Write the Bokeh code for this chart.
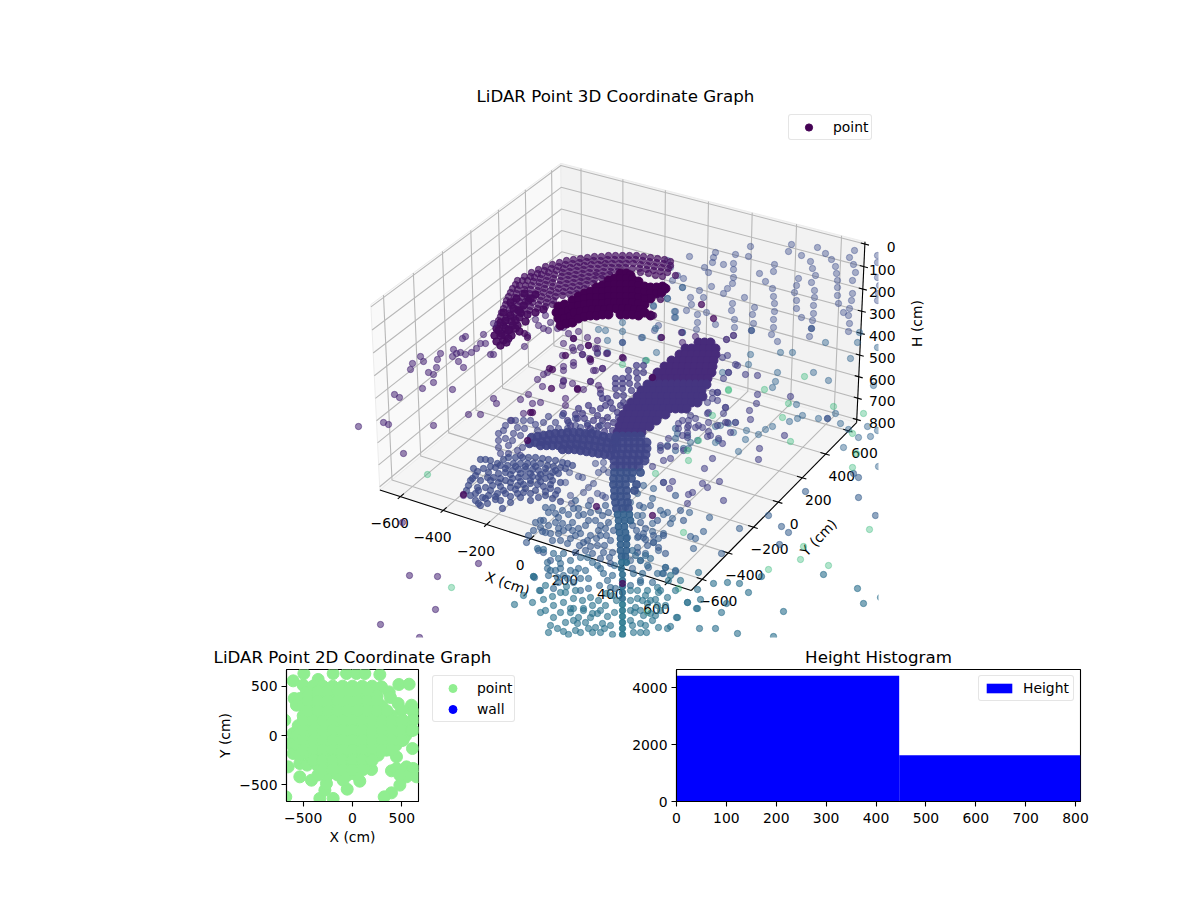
import numpy as np
from bokeh.plotting import figure
from bokeh.layouts import column, row
from bokeh.models import (Range1d, Label, Legend, LegendItem, FixedTicker,
                          LinearColorMapper, ColumnDataSource)
from bokeh.palettes import Viridis256
from bokeh.embed import file_html
from bokeh.resources import INLINE

# ---------- 3D chart: points as read in the chart's projected view -----------
wall_violet = [(689,256),(715,252),(713,257),(712,262),(735,254),(748,256),(750,246),(733,263),(723,264),(733,269),(704,267),(708,272),(733,277),(732,283),(727,288),(723,293),(711,286),(699,290),(682,287),(672,280),(683,278),(677,275),(670,267),(667,260),(774,264),(773,271),(759,273),(765,281),(772,288),(773,296),(744,297),(774,303),(754,307),(774,311),(752,314),(773,319),(753,323),(773,327),(771,334),(777,341),(732,303),(731,310),(734,319),(734,327),(733,335),(726,339),(703,297),(691,304),(690,297),(686,310),(675,311),(706,312),(697,314),(674,317),(715,324),(697,322),(696,329),(682,332),(654,330),(658,325),(653,306),(641,337),(667,298),(791,244),(788,251),(801,255),(810,261),(817,247),(825,253),(831,259),(835,266),(836,273),(837,280),(837,287),(837,295),(838,303),(843,312),(854,250),(849,257),(853,264),(855,272),(852,280),(852,293),(851,300),(849,308),(848,315),(849,323),(848,331),(812,268),(815,275),(811,282),(814,290),(814,297),(813,305),(813,313),(812,320),(809,336),(798,278),(796,285),(794,292),(796,300),(796,308),(801,317),(877,255),(877,262),(877,277),(879,285),(878,293),(877,300)]
wall_blue = [(825,342),(857,342),(859,332),(877,347),(780,352),(792,352),(850,358),(750,354),(622,322),(598,329),(605,330),(622,331),(642,337),(607,340),(597,352),(607,352),(682,332),(655,328),(660,337),(656,352),(645,360),(682,287),(675,317),(674,311),(653,305),(667,298),(777,372),(775,381),(828,380),(813,372),(748,364),(722,372),(772,387),(796,404),(835,413),(802,415),(797,418),(789,421),(818,418),(840,423),(772,426),(765,429),(758,434),(745,439),(746,430),(735,422),(728,423),(720,425),(715,426),(733,432),(718,440),(715,442),(697,440),(690,442),(688,448),(738,451),(873,385),(867,426),(870,436),(877,430),(848,429),(858,437),(843,447),(878,466)]
wall_dark_blue = [(622,342),(811,328),(827,418),(751,330)]
sparse_purple = [(358,426),(383,422),(388,424),(403,453),(433,425),(394,394),(399,397),(422,388),(433,382),(452,389),(428,372),(433,374),(436,367),(412,363),(410,369),(423,361),(458,361),(463,367),(468,414),(480,414),(493,398),(496,403),(463,495),(402,522),(409,575),(437,576),(478,563),(435,609),(380,624),(419,637),(528,394),(520,399),(540,402),(532,403),(547,372),(543,374),(537,379),(563,370),(573,365),(590,361),(593,370),(602,368),(563,381),(542,386),(562,385),(572,383),(590,381),(600,389),(523,413),(511,420),(493,323),(483,334),(462,338),(465,336),(453,349),(460,352),(456,353),(465,354),(471,352),(476,348),(480,343),(485,343),(490,354),(493,354),(440,353),(420,356),(437,359),(452,356),(524,346),(527,335),(535,319),(545,315),(538,325),(543,328),(550,322),(548,330),(557,328),(563,327),(568,333),(573,338),(578,331),(587,337),(588,345),(563,343),(562,355),(572,347),(580,347),(582,354),(597,348),(597,353),(607,353),(589,358),(681,332),(695,336),(682,342),(606,353),(597,340),(595,348),(582,354),(573,350),(563,366),(573,362),(595,370),(602,368),(590,381),(563,380),(583,389),(598,385),(565,398),(565,405),(623,358),(733,335),(726,339)]
dark_specks = [(549,368),(552,369),(551,388),(577,389),(530,412),(532,412),(527,440),(652,377),(622,583),(652,515),(596,506),(463,494),(622,357),(588,345),(590,359),(573,338),(565,355),(577,388),(653,315),(660,299),(661,337),(713,318),(701,304),(524,333),(527,337)]
right_purple = [(757,375),(735,364),(745,374),(728,372),(712,392),(717,392),(725,407),(708,412),(708,422),(698,425),(688,425),(678,423),(725,422),(708,431),(710,435),(687,432),(678,428),(682,435),(668,438),(687,437),(660,445),(667,446),(675,446),(660,450),(683,450),(670,458),(663,460),(652,466),(712,458),(759,448),(758,459),(704,468),(702,483),(707,487),(719,481),(672,481),(663,482),(669,488),(688,494),(692,492),(687,503),(723,500),(784,435),(750,419),(749,410),(756,403),(757,394),(790,396),(722,357),(727,355),(737,365),(728,372),(723,378),(717,392),(712,398),(717,400),(707,402),(707,413),(725,407),(723,413),(717,425),(727,422),(735,422),(730,432),(722,443),(718,438),(707,436),(702,427),(695,427),(687,427),(695,418),(690,415),(682,420),(688,420)]
right_blue = [(663,482),(653,488),(652,498),(643,485),(637,493),(630,502),(643,507),(642,515),(625,507),(637,515),(660,510),(667,512),(663,514),(672,518),(670,523),(652,523),(652,531),(663,533),(653,542),(658,538),(658,550),(643,537),(645,553),(637,537),(637,547),(627,537),(665,567),(675,571),(640,560),(663,573),(648,567),(632,568),(630,560),(689,512),(709,517),(739,528),(768,515),(781,526),(788,532),(690,536),(695,538),(703,531),(693,548),(721,553),(875,515),(858,497),(858,477),(853,473),(805,491),(675,428),(677,433),(675,438),(687,435),(667,445),(660,447),(675,450),(683,448),(779,544)]
lower_teal = [(698,572),(713,583),(727,582),(739,583),(748,592),(726,603),(721,612),(783,611),(700,599),(687,602),(697,589),(696,608),(676,617),(670,626),(699,628),(715,628),(737,633),(773,636),(761,576),(823,574),(857,588),(863,603),(880,597)]
green_points = [(427,474),(451,587),(655,473),(688,460),(764,389),(728,389),(788,403),(833,406),(782,417),(804,376),(790,441),(687,450),(712,415),(728,390),(622,364),(646,360),(683,532),(678,588),(647,612),(803,546),(800,559),(828,565),(768,569),(869,529),(852,467),(856,453),(852,433),(863,413),(698,440)]

arc_band = [(517,280),(524,276),(531,272),(538,269),(545,266),(552,264),(559,262),(566,260),(573,259),(580,258),(587,257),(594,256),(601,256),(608,255),(615,255),(622,255),(629,255),(636,255),(643,256),(650,257),(657,258),(664,259),(670,261),
(512,288),(519,285),(527,280),(534,277),(541,274),(548,272),(556,270),(563,268),(570,267),(577,266),(584,265),(591,264),(598,264),(605,263),(612,263),(619,263),(626,263),(633,263),(640,264),(647,265),(654,266),(661,267),(668,268),
(508,296),(516,293),(524,289),(531,285),(539,282),(546,280),(553,278),(561,276),(568,275),(575,274),(582,273),(589,272),(596,272),(603,271),(610,271),(617,271),(640,272),(648,273),(655,275),(662,276),(675,275),
(505,304),(513,301),(521,297),(529,293),(537,290),(544,288),(552,286),(559,284),(566,283),(573,282),(580,281),(587,280),(594,279),(601,278),
(501,312),(509,309),(517,305),(525,301),(533,298),(541,296),(549,294),(556,292),(563,291),(570,290),(577,289),(584,288),
(498,320),(506,317),(514,313),(522,309),(530,306),(538,304),(546,302),(553,300),
(515,284),(522,280),(530,276),(537,273),(544,270),(551,268),(558,266),(565,264),(572,263),(579,262),(586,261),(593,260),(600,260),(607,259),(614,259),(621,259),(628,259),(635,259),(642,260),(649,261),(656,262),(663,263),(670,265),
(510,292),(517,289),(525,285),(533,281),(540,278),(547,276),(554,274),(562,272),(569,271),(576,270),(583,269),(590,268),(597,268),(604,267),(611,267),(618,267),(625,267),(632,268),(639,268),(646,269),(653,270),(660,271),(667,272),
(506,300),(514,297),(522,293),(530,289),(538,286),(545,284),(552,282),(560,280),(567,279),(574,278),(581,277),(588,276),(595,275),(602,275),(609,274),
(503,308),(511,305),(519,301),(527,297),(535,294),(543,292),(550,290),(558,288),(565,287),(572,286),(579,285),(586,284),(593,283),
(500,316),(508,313),(516,309),(524,305),(532,302),(540,300),(547,298),(555,296),(562,295),(569,294),(576,293),
(497,324),(505,321),(513,317),(521,313),(529,310),(537,308),(545,306),(552,304)]
arc_foot = [(496,328),(503,325),(511,321),(519,317),(527,314),(535,312),(543,309),(494,335),(501,333),(509,329),(517,325),(525,321),(496,341),(503,340),(511,335),(519,331),(500,345),(506,342),
(500,322),(505,328),(510,315),(515,320),(520,312),(505,335),(512,325),(500,335),(508,338),(515,328),(523,305),(518,310),(528,300),(535,294),(505,320),(513,308),(508,330),(498,330),(503,312),(510,302),(516,298),(524,293),(530,298)]
solid_blob = [(558,306),(564,304),(556,312),(562,312),(568,310),(558,318),(564,318),(570,316),(560,325),(566,323),(572,322),
(620,273),(626,273),(630,275),(608,280),(614,278),(620,278),(626,278),(632,279),(638,281),
(596,287),(602,285),(608,285),(614,284),(620,284),(626,284),(632,284),(638,285),(644,286),(650,287),(656,287),(662,286),(665,288),
(578,296),(584,293),(590,291),(596,291),(602,291),(608,290),(614,290),(620,290),(626,290),(632,290),(638,291),(644,292),(650,293),(656,293),(661,292),
(572,300),(578,300),(584,298),(590,297),(596,297),(602,297),(608,296),(614,296),(620,296),(626,296),(632,296),(638,297),(644,298),(650,298),
(572,306),(578,305),(584,304),(590,303),(596,303),(602,303),(608,302),(614,302),(620,302),(626,302),(632,302),(638,303),(644,304),
(574,312),(580,311),(586,310),(592,309),(598,309),(604,309),(610,308),(616,308),(622,308),(628,308),(634,309),(640,309),
(578,318),(584,316),(590,315),(596,315),(602,314),(608,314),(620,314),(626,314),(632,314),(638,315),(644,312),(650,315)]
leaf_upper = [(698,342),(704,342),(710,342),(685,348),(691,348),(697,348),(703,348),(709,348),(715,348),(679,354),(685,354),(691,354),(697,354),(703,354),(709,354),(715,354),
(671,360),(677,360),(683,360),(689,360),(695,360),(701,360),(707,360),(713,360),(664,366),(670,366),(676,366),(682,366),(688,366),(694,366),(700,366),(706,366),(712,366),
(657,372),(663,372),(669,372),(675,372),(681,372),(687,372),(693,372),(699,372),(705,372),(711,372),(653,378),(659,378),(665,378),(671,378),(677,378),(683,378),(689,378),(695,378),(701,378),(707,378)]
leaf_lower = [(647,384),(653,384),(659,384),(665,384),(671,384),(677,384),(683,384),(689,384),(695,384),(701,384),(706,384),
(641,390),(647,390),(653,390),(659,390),(665,390),(671,390),(677,390),(683,390),(689,390),(695,390),(701,390),
(637,396),(643,396),(649,396),(655,396),(661,396),(667,396),(673,396),(679,396),(685,396),(691,396),(697,396),(702,396),
(631,402),(637,402),(643,402),(649,402),(655,402),(661,402),(667,402),(673,402),(679,402),(685,402),(691,402),(697,402),
(627,408),(633,408),(639,408),(645,408),(651,408),(657,408),(663,408),(669,408),(675,408),(681,408),(686,408),
(623,414),(629,414),(635,414),(641,414),(647,414),(653,414),(659,414),(665,414),
(621,420),(627,420),(633,420),(639,420),(645,420),(651,420),(656,420),
(619,426),(625,426),(631,426),(637,426),(643,426),(649,426),(617,432),(623,432),(629,432),(635,432),(641,432)]
fingers = [(615,378),(615,383),(615,388),(616,395),(622,378),(622,383),(622,388),(623,395),(628,370),(628,377),(629,383),(631,390),(636,365),(636,372),(637,378),(637,385),(643,365),(643,372),(600,393),(602,398),(607,398),(610,402),(605,405),(612,408),(617,412),(623,402),(620,405),(627,408),(588,405),(592,410),(597,415),(602,420),(607,425),(612,430),(578,408),(582,413),(577,418),(587,425),(600,408),(607,417),(613,422),(618,417),(563,413),(567,420),(570,425),(615,437),(593,420),(598,426),(604,431),(584,418),(590,428),(575,414)]
fan_upper = [(531,437),(537,436),(543,435),(549,434),(555,433),(561,433),(567,432),(573,432),(579,432),(585,433),(591,433),(597,434),(603,436),(609,437),(615,438),
(529,443),(535,442),(541,441),(547,440),(553,439),(559,439),(565,438),(571,438),(577,438),(583,439),(589,439),(595,440),(601,441),(607,442),(613,443),
(540,445),(546,445),(552,445),(558,445),(564,444),(570,444),(576,444),(582,445),(588,445),(594,446),(600,447),(606,448),(612,449),
(562,449),(568,449),(574,449),(580,450),(586,451),(592,452),(598,453),(604,454),(610,455)]
fan_wing = [(498,433),(503,430),(510,420),(498,440),(498,447),(508,445),(513,433),(520,435),(517,427),(523,420),(530,420),(508,453),(500,453),(522,447),(520,455),(517,450),(537,430),(543,422),(550,428),(555,422),(562,415),(568,422),(575,418),(580,427),(587,423),(593,430),(587,433),(567,428),(505,438),(512,440),(524,428),(505,425),(515,420),(535,424),(548,416),(558,428),(575,425),(600,425)]
fan_lower = [(480,459),(485,459),(490,460),(497,463),(503,459),(508,457),(515,457),(522,457),(528,457),(535,457),(542,458),(548,459),(555,460),(562,462),(567,463),
(473,468),(483,468),(488,472),(495,467),(500,465),(507,465),(513,463),(520,463),(527,463),(533,463),(540,463),(547,465),(553,466),(560,467),
(470,480),(475,475),(480,480),(487,477),(493,477),(498,473),(505,472),(512,470),(518,469),(525,469),(532,469),(538,470),(545,472),(552,472),(558,473),
(468,485),(477,487),(485,487),(492,485),(498,482),(505,480),(512,478),(518,477),(525,476),(532,476),(538,477),(545,478),(552,480),(560,482),
(475,493),(482,497),(488,495),(497,493),(503,490),(510,487),(517,485),(523,484),(530,483),(537,484),(543,486),(550,488),(557,490),
(478,503),(487,503),(495,499),(502,508),(510,496),(517,493),(523,492),(530,493),(538,497),(545,495),(552,498),(560,501),
(477,471),(490,466),(505,468),(515,466),(525,466),(535,466),(545,468),(555,470),(490,480),(500,478),(510,474),(520,473),(530,473),(540,474),(550,476),(478,490),(490,490),(500,486),(510,482),(520,481),(530,480),(540,481),(550,484),(485,498),(495,496),(505,493),(515,489),(525,488),(535,490),(545,491),(555,494),(472,478),(466,490),(470,495),(480,505),(475,500),(500,500),(510,502),(520,497),(530,500),(565,468),(572,465)]
fan_side = [(595,463),(603,462),(598,472),(603,469),(608,472),(569,472),(578,476),(582,477),(565,482),(570,495),(571,503),(590,500),(583,492),(588,487),(593,483),(597,493),(602,495),(605,497)]
trunk_a = [(616,436),(622,436),(628,436),(634,436),(640,436),(616,442),(622,442),(628,442),(634,442),(640,442),(646,442),(616,448),(622,448),(628,448),(634,448),(640,448),(646,448),(615,454),(621,454),(627,454),(633,454),(639,454),(645,454),(614,460),(620,460),(626,460),(632,460),(638,460),(644,460),(614,466),(620,466),(626,466),(632,466),(638,466)]
trunk_b = [(614,472),(620,472),(626,472),(632,472),(640,472),(613,478),(619,478),(625,478),(631,478),(613,484),(619,484),(625,484),(636,484),(614,490),(620,490),(626,490),(634,490),(614,496),(620,496),(626,496),(615,502),(621,502),(627,502),(616,508),(622,508),(628,508)]
trunk_c = [(617,514),(623,514),(629,514),(618,520),(624,520),(630,520),(618,526),(624,526),(619,532),(625,532),(620,538),(626,538),(620,544),(626,544),(620,550),(626,550),(621,556),(625,556)]
trunk_d = [(621,562),(626,562),(621,568),(622,574),(622,580),(622,586),(622,592),(622,598)]
trunk_e = [(622,604),(622,610),(622,616),(622,622),(622,628),(622,634)]
scatter_mid = [(540,520),(545,507),(552,507),(555,513),(562,510),(555,522),(562,523),(572,522),(573,508),(578,515),(583,514),(526,542),(538,550),(543,552),(542,531),(543,520),(540,527),(550,560),(545,532),(550,533),(558,533),(563,530),(572,530),(575,535),(583,542),(590,535),(600,535),(605,528),(610,540),(613,530),(567,543),(579,545),(590,546),(597,545),(603,552),(612,552),(609,557),(637,552),(645,539),(653,542),(658,547),(665,553),(638,536),(643,533),(653,535),(663,535),(595,520),(602,515),(585,525),(575,500),(590,512),(605,505),(608,522),(600,525),(632,525),(640,522),(645,528),
(548,512),(558,517),(568,514),(578,508),(588,505),(598,510),(608,512),(548,525),(558,528),(568,527),(578,528),(588,520),(598,530),(606,535),(552,540),(560,540),(570,538),(580,533),(587,540),(596,538),(604,545),(575,552),(585,550),(592,553),(600,558),(610,563),(533,530),(535,522),(528,535),(639,505),(650,505),(657,520),(647,545),(636,530),(680,510),(675,495),(683,520)]
scatter_low = [(537,548),(543,549),(547,562),(553,553),(558,558),(563,553),(570,560),(560,568),(550,570),(570,570),(578,568),(580,557),(587,557),(597,565),(603,573),(588,578),(580,578),(573,582),(567,578),(557,577),(553,588),(558,582),(580,590),(588,588),(599,585),(610,587),(615,588),(632,550),(640,560),(635,555),(647,565),(645,555),(650,558),(662,573),(665,567),(675,570),(657,573),(642,573),(633,573),(630,585),(640,582),(652,582),(533,576),(547,568),(560,563),(534,577),(540,590),(548,575),(555,570),(563,575),(575,572),(585,570),(592,562),(600,568),(607,580),(612,575),(614,565),(640,580)]
scatter_bottom = [(533,576),(539,590),(543,599),(532,602),(553,617),(557,628),(563,631),(580,632),(588,628),(606,593),(583,610),(573,608),(563,602),(553,605),(565,592),(573,598),(597,613),(602,623),(573,620),(592,613),(600,610),(607,616),(610,625),(595,627),(643,615),(650,613),(658,627),(667,628),(677,617),(697,608),(687,602),(657,605),(647,603),(655,599),(645,595),(647,590),(657,587),(658,592),(667,597),(630,590),(637,590),(637,598),(635,607),(630,610),(630,620),(640,623),(633,632),(646,632),(523,595),(514,604),(570,608),(583,608),(590,617),(577,623),(548,632),(568,634),(600,632),(612,634),(612,595),(605,605),(598,600),(590,597),(582,600),(575,590),(566,586),(560,592),(552,596),(545,585),(570,612),(578,617),(585,622),(592,605),(560,612),(545,610),(565,622),(575,630),(592,632),(604,628),(614,612),(616,600),(550,625),(540,612),(630,600),(634,612),(640,610),(642,600),(632,625),(650,600),(655,615),(645,625),(640,632),(652,620),(660,610),(665,605),(675,590),(668,580),(660,590),(670,575),(680,580)]

arc_height = 35
solid_height = 0
foot_height = 25
wall_height = 190
wall_blue_height = 260
purple_height = 85
dark_height = 25
right_purple_height = 150
right_blue_height = 240
teal_height = 320
green_height = 540
leaf_upper_height = 100
leaf_lower_height = 125
fingers_height = 145
fan_upper_height = 165
fan_lower_height = 185
trunk_heights = [170, 200, 250, 290, 325]
scatter_heights = [225, 265, 310]

# axis limits and ticks of the 3D box
x_lim = (-697, 703)
y_lim = (-683, 672)
h_lim = (-10, 815)
xy_ticks = [-600, -400, -200, 0, 200, 400, 600]
h_ticks = [0, 100, 200, 300, 400, 500, 600, 700, 800]

# ---------- 2D chart -----------
points_x = [-493,-196,-61,40,125,277,-601,-500,-466,-348,-591,-534,-568,470,574,294,372,385,463,598,615,497,615,615,513,513,412,412,513,345,446,608,395,446,547,615,649,547,480,395,321,480,-601,-635,-652,-676,-686,-534,-416,-534,-601,-331,-196,-280,-54,74,193,-264,-95,
-400,-300,-200,-100,0,100,200,-450,-350,-250,-150,-50,50,150,250,-500,-400,-300,-200,-100,0,100,200,300,-500,-400,-300,-200,-100,0,100,200,300,400,-550,-450,-350,-250,-150,-50,50,150,250,350,450,550,-560,-460,-360,-260,-160,-60,40,140,240,340,440,540,-560,-460,-360,-260,-160,-60,40,140,240,340,440,-540,-440,-340,-240,-140,-40,60,160,260,-460,-360,-260,-160,-60,40,140,-350,-250,-150,-50,40]
points_y = [628,628,628,628,628,618,554,510,442,568,375,375,307,517,520,493,442,385,324,307,240,257,155,54,155,54,88,-47,-47,-149,-216,-132,-358,-334,-318,-334,-419,-419,-503,-581,-622,-402,20,-81,-318,-622,155,-419,-453,-284,-182,-638,-638,-554,-544,-463,-345,-486,-453,
500,500,500,500,500,500,500,400,400,400,400,400,400,400,400,300,300,300,300,300,300,300,300,300,200,200,200,200,200,200,200,200,200,200,100,100,100,100,100,100,100,100,100,100,100,100,0,0,0,0,0,0,0,0,0,0,0,0,-100,-100,-100,-100,-100,-100,-100,-100,-100,-100,-100,-200,-200,-200,-200,-200,-200,-200,-200,-200,-300,-300,-300,-300,-300,-300,-300,-400,-400,-400,-400,-400]
fill_x = [-350,-250,-150,-50,50,150,-450,-350,-250,-150,-50,50,150,250,-450,-350,-250,-150,-50,50,150,250,350,-500,-400,-300,-200,-100,0,100,200,300,400,500,-500,-400,-300,-200,-100,0,100,200,300,400,500,600,-500,-400,-300,-200,-100,0,100,200,300,400,500,-500,-400,-300,-200,-100,0,100,200,300,400,-400,-300,-200,-100,0,100,200,-300,-200,-100,0,100]
fill_y = [450,450,450,450,450,450,350,350,350,350,350,350,350,350,250,250,250,250,250,250,250,250,250,150,150,150,150,150,150,150,150,150,150,150,50,50,50,50,50,50,50,50,50,50,50,50,-50,-50,-50,-50,-50,-50,-50,-50,-50,-50,-50,-150,-150,-150,-150,-150,-150,-150,-150,-150,-150,-250,-250,-250,-250,-250,-250,-250,-350,-350,-350,-350,-350]
wall_x = [2000]
wall_y = [2000]
limits_2d = (-669, 669)
ticks_2d = [-500, 0, 500]

# ---------- histogram -----------
hist_edges = [0, 446.5, 810]
hist_counts = [4420, 1625]
hist_x_ticks = [0, 100, 200, 300, 400, 500, 600, 700, 800]
hist_y_ticks = [0, 2000, 4000]
hist_y_max = 4640

FONT = "DejaVu Sans"
TITLE = "16.67px"
TICK = "13.9px"


def proj(xv, yv, hv):
    """Perspective view of the 3D box (elevation 30, azimuth -60)."""
    ax, ay, az = 1.1905, 1.1905, 0.72
    wx = ax * (xv - x_lim[0]) / (x_lim[1] - x_lim[0])
    wy = ay * (yv - y_lim[0]) / (y_lim[1] - y_lim[0])
    wz = az * (h_lim[1] - hv) / (h_lim[1] - h_lim[0])
    qx, qy, qz = wx - 4.925, wy + 6.905, wz - 5.446
    um = 0.866025 * qx + 0.5 * qy
    vm = -0.25 * qx + 0.433013 * qy + 0.866025 * qz
    dm = -(0.433013 * qx - 0.75 * qy + 0.5 * qz)
    return 622 + 2996 * um / dm, 343.3 - 2962 * vm / dm


def segs(triples):
    out = [proj(*t) for t in triples]
    return [o[0] for o in out], [o[1] for o in out]


VIEW_RIGHT = 935
CLIP_RIGHT = 878
top = figure(width=1184, height=640, output_backend="svg", toolbar_location=None,
             x_range=Range1d(352, VIEW_RIGHT), y_range=Range1d(637, 108),
             x_axis_type=None, y_axis_type=None, min_border_left=352, min_border_right=1184 - VIEW_RIGHT,
             min_border_top=108, min_border_bottom=3, outline_line_color=None,
             title="LiDAR Point 3D Coordinate Graph")
top.title.align = "left"
top.title.offset = 124
top.title.text_font = FONT
top.title.text_font_size = TITLE
top.title.text_font_style = "normal"
top.title.text_color = "black"
top.title.standoff = 6

xl, xh = x_lim
yl, yh = y_lim
hb, ht = h_lim[1], h_lim[0]

panes = [
    ([(xl, yl, hb), (xl, yh, hb), (xl, yh, ht), (xl, yl, ht)], "#f9f9f9"),
    ([(xl, yh, hb), (xh, yh, hb), (xh, yh, ht), (xl, yh, ht)], "#f2f2f2"),
    ([(xl, yl, hb), (xh, yl, hb), (xh, yh, hb), (xl, yh, hb)], "#f5f5f5"),
]
for corners, colour in panes:
    px, py = segs(corners)
    top.patch(px, py, fill_color=colour, line_color="#ececec", line_width=1)

grid_xs, grid_ys = [], []
for t in xy_ticks:
    a, b = segs([(t, yl, hb), (t, yh, hb), (t, yh, ht)])
    grid_xs.append(a); grid_ys.append(b)
    a, b = segs([(xh, t, hb), (xl, t, hb), (xl, t, ht)])
    grid_xs.append(a); grid_ys.append(b)
for t in h_ticks:
    a, b = segs([(xl, yl, t), (xl, yh, t), (xh, yh, t)])
    grid_xs.append(a); grid_ys.append(b)
top.multi_line(grid_xs, grid_ys, line_color="#b8b8b8", line_width=1.1)

ax_xs, ax_ys = [], []
for tr in ([(xl, yl, hb), (xh, yl, hb)], [(xh, yl, hb), (xh, yh, hb)], [(xh, yh, hb), (xh, yh, ht)]):
    a, b = segs(tr)
    ax_xs.append(a); ax_ys.append(b)
for t in xy_ticks:
    a, b = segs([(t, yl - 18, hb), (t, yl + 24, hb)])
    ax_xs.append(a); ax_ys.append(b)
    a, b = segs([(xh - 24, t, hb), (xh + 18, t, hb)])
    ax_xs.append(a); ax_ys.append(b)
for t in h_ticks:
    a, b = segs([(xh - 18, yh, t), (xh + 18, yh, t)])
    ax_xs.append(a); ax_ys.append(b)
top.multi_line(ax_xs, ax_ys, line_color="black", line_width=1.1)


def minus(v):
    return str(v).replace("-", "\u2212")


def tick_label(txt, x, y, align="center", angle=0, level="underlay"):
    top.add_layout(Label(x=x, y=y, text=txt, text_font=FONT, text_font_size=TICK, text_color="black",
                         text_align=align, text_baseline="middle", angle=angle, angle_units="deg",
                         level=level))


for t in xy_ticks:
    sx, sy = proj(t, yl, hb)
    tick_label(minus(t), sx - 10.7, sy + 26.5)
    sx, sy = proj(xh, t, hb)
    tick_label(minus(t), sx + 16, sy + 22)
tick_label("X (cm)", 507, 583, angle=-19)
tick_label("Y (cm)", 818, 537, angle=46)

mapper = LinearColorMapper(palette=Viridis256, low=0, high=810)


def cloud(pts, h, alpha, size=6.3):
    xs = [q[0] for q in pts]
    ys = [q[1] for q in pts]
    src = ColumnDataSource(dict(x=xs, y=ys, h=[h] * len(xs)))
    col = {"field": "h", "transform": mapper}
    return top.scatter("x", "y", source=src, size=size, line_width=1, fill_color=col, line_color=col,
                       fill_alpha=alpha, line_alpha=alpha)


cloud(wall_violet, wall_height, 0.42)
cloud(wall_blue, wall_blue_height, 0.45)
cloud(wall_dark_blue, 210, 0.8)
cloud(arc_band, arc_height, 0.7)
cloud(arc_foot, foot_height, 0.9, size=7.5)
cloud(sparse_purple, purple_height, 0.55)
cloud(solid_blob, solid_height, 1.0, size=9)
cloud(right_blue, right_blue_height, 0.55)
cloud(right_purple, right_purple_height, 0.55)
cloud(green_points, green_height, 0.38)
cloud(lower_teal, 300, 0.6)
cloud(fingers, fingers_height, 0.7)
cloud(leaf_upper, leaf_upper_height, 1.0, size=9)
cloud(leaf_lower, leaf_lower_height, 1.0, size=9)
cloud(fan_wing, fan_upper_height, 0.6)
cloud(fan_upper, fan_upper_height, 0.95, size=8.5)
cloud(fan_lower, fan_lower_height, 0.7)
cloud(fan_side, fan_lower_height, 0.5)
cloud(scatter_mid, scatter_heights[0], 0.6)
cloud(scatter_low, scatter_heights[1], 0.6)
cloud(scatter_bottom, scatter_heights[2], 0.6)
for pts, h, s in zip([trunk_a, trunk_b, trunk_c, trunk_d, trunk_e], trunk_heights, [9, 8, 7, 6.3, 6.3]):
    cloud(pts, h, 0.9, size=s)
cloud(dark_specks, dark_height, 0.75)

# the 3D view is cut at its right edge; only the H axis texts lie beyond it
top.quad(left=[CLIP_RIGHT], right=[VIEW_RIGHT], top=[108], bottom=[637], fill_color="white", line_color=None)
for t in h_ticks:
    sx, sy = proj(xh, yh, t)
    tick_label(str(t), 895, sy + 3, align="right", level="annotation")
tick_label("H (cm)", 916, 323, angle=90, level="annotation")

legend_src = top.scatter(x=[solid_blob[60][0]], y=[solid_blob[60][1]], size=6.5, color="#440154")
leg = Legend(items=[LegendItem(label="point", renderers=[legend_src])], location=(436, 497))


def style_legend(lg, pad=3, gw=33, gh=18, standoff=8, spacing=1):
    lg.padding = pad
    lg.margin = 0
    lg.spacing = spacing
    lg.glyph_width = gw
    lg.glyph_height = gh
    lg.label_standoff = standoff
    lg.label_text_font = FONT
    lg.label_text_font_size = TICK
    lg.label_text_color = "black"
    lg.border_line_color = "#cccccc"
    lg.border_line_width = 1
    lg.background_fill_alpha = 0.8
    if "border_radius" in lg.properties():
        lg.border_radius = 3


style_legend(leg)
top.add_layout(leg)


def style_axes(p):
    for ax in (p.xaxis[0], p.yaxis[0]):
        ax.axis_line_color = "black"
        ax.axis_line_width = 1.1
        ax.major_tick_line_color = "black"
        ax.major_tick_line_width = 1.1
        ax.major_tick_out = 5
        ax.major_tick_in = 0
        ax.minor_tick_line_color = None
        ax.major_label_text_font = FONT
        ax.major_label_text_font_size = TICK
        ax.major_label_text_color = "black"
        ax.axis_label_text_font = FONT
        ax.axis_label_text_font_size = TICK
        ax.axis_label_text_font_style = "normal"
        ax.axis_label_text_color = "black"
        ax.axis_label_standoff = 3
    p.xaxis[0].major_label_standoff = 6
    p.yaxis[0].major_label_standoff = 4
    p.grid.visible = False
    p.outline_line_color = "black"
    p.outline_line_width = 1.1
    p.title.align = "center"
    p.title.text_font = FONT
    p.title.text_font_size = TITLE
    p.title.text_font_style = "normal"
    p.title.text_color = "black"
    p.title.standoff = 6


left = figure(frame_width=132, frame_height=132, output_backend="svg", toolbar_location=None,
              x_range=Range1d(*limits_2d), y_range=Range1d(*limits_2d),
              min_border_left=286, min_border_right=202, min_border_top=29, min_border_bottom=59,
              title="LiDAR Point 2D Coordinate Graph", x_axis_label="X (cm)", y_axis_label="Y (cm)")
left.scatter(points_x, points_y, size=12, color="#90ee90")
left.scatter(fill_x, fill_y, size=12, color="#90ee90")
for ax in (left.xaxis[0], left.yaxis[0]):
    ax.ticker = FixedTicker(ticks=ticks_2d)
    ax.major_label_overrides = {v: minus(v) for v in ticks_2d}
style_axes(left)
leg_pt = left.scatter(fill_x[:1], fill_y[:1], size=10, color="#90ee90")
leg_wl = left.scatter(wall_x, wall_y, size=10, color="#0000ff")
leg2 = Legend(items=[LegendItem(label="point", renderers=[leg_pt]), LegendItem(label="wall", renderers=[leg_wl])],
              location=(14, 79))
style_legend(leg2, pad=2, gw=35, gh=20, standoff=7, spacing=1)
left.add_layout(leg2, "right")

# the histogram starts 620 px from the page's left edge, over the empty right border of the 2D chart
right = figure(width=564, height=220, output_backend="svg", toolbar_location=None,
               x_range=Range1d(hist_edges[0], hist_edges[-1]), y_range=Range1d(0, hist_y_max),
               min_border_left=56, min_border_right=104, min_border_top=29, min_border_bottom=59,
               title="Height Histogram", margin=(0, 0, 0, -346))
bars = right.quad(left=hist_edges[:-1], right=hist_edges[1:], bottom=0, top=hist_counts,
                  fill_color="#0000ff", line_color=None)
right.xaxis[0].ticker = FixedTicker(ticks=hist_x_ticks)
right.yaxis[0].ticker = FixedTicker(ticks=hist_y_ticks)
style_axes(right)
leg3 = Legend(items=[LegendItem(label="Height", renderers=[bars])], location=(302, 100))
style_legend(leg3, pad=4, gw=32, gh=12, standoff=8)
right.add_layout(leg3)

page = column(top, row(left, right))
open("out.html", "w").write(file_html(page, INLINE))
